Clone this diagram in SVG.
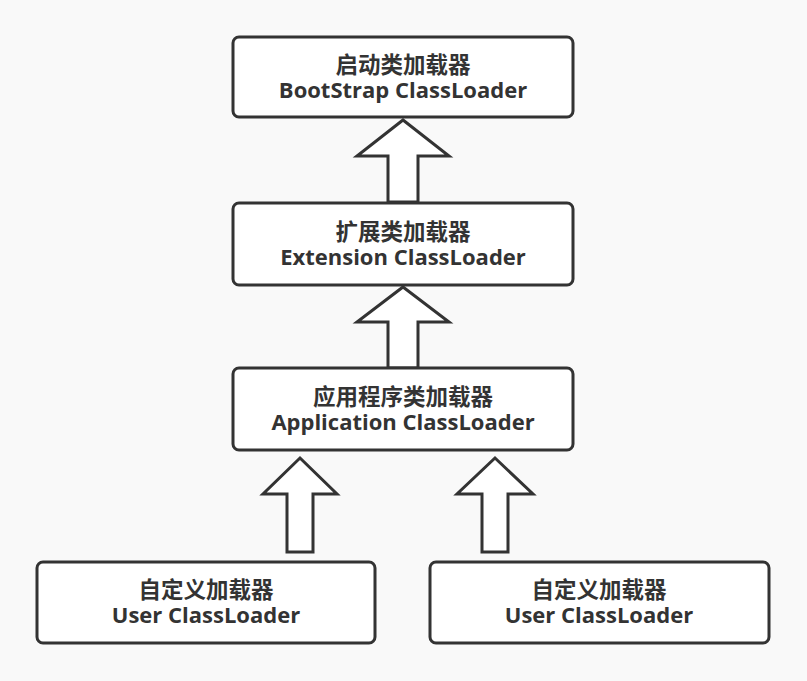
<svg xmlns="http://www.w3.org/2000/svg" width="807" height="681" viewBox="0 0 807 681">
<style>
.box{fill:#ffffff;stroke:#333333;stroke-width:3}
.arr{fill:#ffffff;stroke:#333333;stroke-width:3;stroke-linejoin:miter}
.t{font-family:"Open Sans","Noto Sans CJK SC",sans-serif;font-weight:bold;font-size:22px;fill:#333333;text-anchor:middle}
.c{font-family:"Noto Sans CJK SC",sans-serif;font-size:22.5px}
</style>
<rect width="807" height="681" fill="#f9f9f9"/>
<g id="connectors">
<polygon class="arr" points="403,120 449,156 418,156 418,202 388,202 388,156 357,156"/>
<polygon class="arr" points="403,287 449,322 418,322 418,368 388,368 388,322 357,322"/>
<polygon class="arr" points="300,458 337,494 313,494 313,552 287,552 287,494 263,494"/>
<polygon class="arr" points="495,458 533,494 508,494 508,552 482,552 482,494 457,494"/>
</g>
<g id="bootstrap">
<rect class="box" x="233" y="37" width="340" height="80" rx="6"/>
<text class="t"><tspan class="c" x="403" y="73">启动类加载器</tspan><tspan x="403" y="98">BootStrap ClassLoader</tspan></text>
</g>
<g id="extension">
<rect class="box" x="233" y="203" width="340" height="82" rx="6"/>
<text class="t"><tspan class="c" x="403" y="240">扩展类加载器</tspan><tspan x="403" y="265">Extension ClassLoader</tspan></text>
</g>
<g id="application">
<rect class="box" x="233" y="368" width="340" height="82" rx="6"/>
<text class="t"><tspan class="c" x="403" y="405">应用程序类加载器</tspan><tspan x="403" y="430">Application ClassLoader</tspan></text>
</g>
<g id="user1">
<rect class="box" x="37" y="562" width="338" height="81" rx="6"/>
<text class="t"><tspan class="c" x="206" y="598">自定义加载器</tspan><tspan x="206" y="623">User ClassLoader</tspan></text>
</g>
<g id="user2">
<rect class="box" x="430" y="562" width="339" height="81" rx="6"/>
<text class="t"><tspan class="c" x="599" y="598">自定义加载器</tspan><tspan x="599" y="623">User ClassLoader</tspan></text>
</g>
</svg>
